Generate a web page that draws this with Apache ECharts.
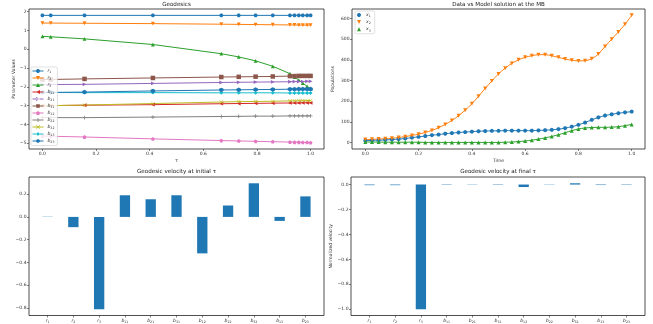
<!DOCTYPE html>
<html>
<head>
<meta charset="utf-8">
<script src="https://cdn.jsdelivr.net/npm/echarts@6/dist/echarts.min.js"></script>
<style>html,body{margin:0;padding:0;background:#fff}#chart{width:653px;height:324px}</style>
</head>
<body>
<div id="chart"></div>
<script>
// ---- data: geodesics (top left)
const tau = [0, 0.031, 0.157, 0.412, 0.667, 0.732, 0.795, 0.859, 0.923, 0.94, 0.956, 0.971, 0.987, 1.0];
const paramNames = ['r1', 'r2', 'r3', 'b11', 'b21', 'b31', 'b12', 'b22', 'b32', 'b13', 'b23'];
const r1  = [1.80, 1.80, 1.80, 1.80, 1.80, 1.80, 1.80, 1.80, 1.80, 1.80, 1.80, 1.80, 1.80, 1.80];
const r2  = [1.39, 1.39, 1.38, 1.36, 1.33, 1.32, 1.31, 1.30, 1.29, 1.29, 1.285, 1.28, 1.28, 1.28];
const r3  = [0.68, 0.66, 0.55, 0.25, -0.24, -0.41, -0.62, -0.91, -1.30, -1.48, -1.64, -1.80, -1.98, -2.10];
const b11 = [-3.00, -3.00, -2.98, -2.95, -2.90, -2.89, -2.88, -2.87, -2.86, -2.86, -2.86, -2.85, -2.85, -2.85];
const b21 = [-1.88, -1.88, -1.87, -1.82, -1.77, -1.76, -1.75, -1.74, -1.73, -1.72, -1.72, -1.72, -1.71, -1.71];
const b31 = [-1.61, -1.61, -1.58, -1.53, -1.48, -1.47, -1.46, -1.45, -1.43, -1.43, -1.42, -1.42, -1.42, -1.42];
const b12 = [-4.62, -4.63, -4.67, -4.77, -4.86, -4.88, -4.90, -4.92, -4.94, -4.95, -4.95, -4.96, -4.96, -4.97];
const b22 = [-3.64, -3.64, -3.64, -3.61, -3.58, -3.57, -3.56, -3.56, -3.55, -3.55, -3.55, -3.55, -3.55, -3.55];
const b32 = [-3.00, -3.00, -2.97, -2.89, -2.81, -2.79, -2.78, -2.77, -2.75, -2.75, -2.74, -2.74, -2.73, -2.73];
const b13 = [-2.30, -2.30, -2.31, -2.31, -2.32, -2.32, -2.32, -2.32, -2.33, -2.33, -2.33, -2.33, -2.33, -2.33];
const b23 = [-2.30, -2.30, -2.28, -2.22, -2.17, -2.16, -2.15, -2.14, -2.13, -2.13, -2.12, -2.12, -2.12, -2.12];
const paths = [r1, r2, r3, b11, b21, b31, b12, b22, b32, b13, b23];

// ---- data: populations (top right)
const time = [0, 0.025, 0.05, 0.075, 0.1, 0.125, 0.15, 0.175, 0.2, 0.225, 0.25, 0.275, 0.3, 0.325, 0.35, 0.375, 0.4,
  0.425, 0.45, 0.475, 0.5, 0.525, 0.55, 0.575, 0.6, 0.625, 0.65, 0.675, 0.7, 0.725, 0.75, 0.775, 0.8, 0.825, 0.85,
  0.875, 0.9, 0.925, 0.95, 0.975, 1.0];
const x1 = [10, 11, 12, 13, 15, 17, 20, 24, 28, 32, 36, 39, 43, 46, 49, 51, 53, 55, 56, 57, 57, 58, 58, 58, 58, 58,
  59, 60, 62, 65, 70, 77, 86, 97, 110, 122, 131, 137, 142, 146, 150];
const x2 = [15, 16, 17, 19, 21, 25, 29, 35, 41, 49, 59, 72, 88, 107, 130, 157, 188, 224, 262, 298, 332, 360, 383, 400,
  412, 420, 425, 425, 420, 412, 404, 398, 395, 396, 405, 428, 465, 500, 535, 572, 615];
const x3 = [3, 3, 3, 2, 2, 2, 2, 2, 2, 1, 1, 1, 1, 1, 1, 1, 1, 1, 1, 1, 1, 2, 3, 5, 8, 12, 17, 23, 30, 38, 48, 58,
  66, 71, 73, 74, 74, 75, 77, 82, 88];
const popNames = ['x1', 'x2', 'x3'];
const pops = [x1, x2, x3];

// ---- data: velocities (bottom)
const velInitial = [0.002, -0.09, -0.81, 0.19, 0.155, 0.19, -0.32, 0.10, 0.295, -0.035, 0.18];
const velFinal = [-0.005, -0.005, -1.0, 0.003, 0.002, 0.003, -0.02, 0.002, 0.01, -0.004, 0.003];

// ---- tick labels
const tauTicks = [0, 0.2, 0.4, 0.6, 0.8, 1.0];
const paramTicks = [-5, -4, -3, -2, -1, 0, 1, 2];
const popTicks = [0, 100, 200, 300, 400, 500, 600];
const velTicksInitial = [-0.8, -0.6, -0.4, -0.2, 0.0, 0.2];
const velTicksFinal = [-1.0, -0.8, -0.6, -0.4, -0.2, 0.0];

const FONT = 'DejaVu Sans';
const TAB = ['#1f77b4', '#ff7f0e', '#2ca02c', '#d62728', '#9467bd', '#8c564b', '#e377c2', '#7f7f7f', '#bcbd22', '#17becf', '#1f77b4'];

// marker outlines in a 10x10 box (matplotlib o v ^ < > s p + x D h)
function circlePts() {
  const p = [];
  for (let i = 0; i < 20; i++) {
    const a = i / 20 * Math.PI * 2;
    p.push([5 + 5 * Math.cos(a), 5 + 5 * Math.sin(a)]);
  }
  return p;
}
const SHAPES = [
  circlePts(),
  [[0, 0], [10, 0], [5, 10]],
  [[5, 0], [10, 10], [0, 10]],
  [[10, 0], [10, 10], [0, 5]],
  [[0, 0], [0, 10], [10, 5]],
  [[0.5, 0.5], [9.5, 0.5], [9.5, 9.5], [0.5, 9.5]],
  [[5, 0], [10, 3.8], [8.1, 10], [1.9, 10], [0, 3.8]],
  [[4, 0], [6, 0], [6, 4], [10, 4], [10, 6], [6, 6], [6, 10], [4, 10], [4, 6], [0, 6], [0, 4], [4, 4]],
  [[1, 0], [5, 4], [9, 0], [10, 1], [6, 5], [10, 9], [9, 10], [5, 6], [1, 10], [0, 9], [4, 5], [0, 1]],
  [[5, 0], [9, 5], [5, 10], [1, 5]],
  [[5, 0], [9.3, 2.5], [9.3, 7.5], [5, 10], [0.7, 7.5], [0.7, 2.5]]
];
function toPath(pts, dx) {
  return 'M' + pts.map(p => (p[0] + dx).toFixed(2) + ',' + p[1].toFixed(2)).join('L') + 'Z';
}
const MARKERS = SHAPES.map(s => 'path://' + toPath(s, 0));
const POP_MARKERS = [MARKERS[0], MARKERS[1], MARKERS[2]];
// legend icon: line with the marker in the middle, 27.5x10 box
function lineIcon(pts) {
  return 'path://M0,3.9H27.5V6.1H0Z' + toPath(pts, 8.75);
}

const grids = [
  { left: 29, top: 9, width: 295, height: 140 },
  { left: 352, top: 9, width: 293, height: 140 },
  { left: 29, top: 177, width: 295, height: 139 },
  { left: 351, top: 177, width: 294, height: 139 }
];

// matplotlib style 5% margins
function pad(lo, hi) { const d = (hi - lo) * 0.05; return [lo - d, hi + d]; }
function minus(s) { return String(s).replace('-', '\u2212'); }
function fmt1(v) { return Math.abs(v) < 1e-9 ? '0.0' : minus(v.toFixed(1)); }
function sub(name) { return '{i|' + name[0] + '}{s|' + name.slice(1) + '}'; }

const allParams = [].concat(...paths);
const yParam = pad(Math.min(...allParams), Math.max(...allParams));
const yPop = pad(Math.min(0, ...x3), Math.max(...x2));
const yVel0 = pad(Math.min(0, ...velInitial), Math.max(0, ...velInitial));
const yVel1 = pad(Math.min(0, ...velFinal), Math.max(0, ...velFinal));
const xTau = pad(0, 1);
const xBar = pad(-0.2, paramNames.length - 1 + 0.2);

const tickStyle = { show: true, length: 2, lineStyle: { color: '#333', width: 0.6 } };
const labelBase = { fontFamily: FONT, fontSize: 4.5, color: '#333', margin: 2.5 };
const richSub = {
  i: { fontStyle: 'italic', fontSize: 4.5, fontFamily: FONT, color: '#333', lineHeight: 6, verticalAlign: 'middle' },
  s: { fontSize: 3.2, fontFamily: FONT, color: '#333', lineHeight: 6, verticalAlign: 'bottom', padding: [2, 0, 0, 0] }
};

function valueAxis(gi, range, ticks, fmt, extra) {
  return Object.assign({
    type: 'value', gridIndex: gi, min: range[0], max: range[1],
    axisLine: { show: false, onZero: false },
    axisTick: Object.assign({ customValues: ticks }, tickStyle),
    axisLabel: Object.assign({ customValues: ticks, formatter: fmt }, labelBase),
    splitLine: { show: false },
    nameTextStyle: { fontFamily: FONT, fontSize: 4.5, color: '#333' }
  }, extra || {});
}

const barIdx = paramNames.map((n, i) => i);

const series = [];
paths.forEach((arr, k) => {
  series.push({
    name: paramNames[k], type: 'line', xAxisIndex: 0, yAxisIndex: 0,
    data: tau.map((t, i) => [t, arr[i]]),
    symbol: MARKERS[k], symbolSize: (k === 5 || k === 10) ? 4.5 : 3.8, showSymbol: true,
    lineStyle: { width: 1, color: TAB[k] }, itemStyle: { color: TAB[k] },
    silent: true, animation: false
  });
});
pops.forEach((arr, k) => {
  series.push({
    name: popNames[k], type: 'line', xAxisIndex: 1, yAxisIndex: 1,
    data: time.map((t, i) => [t, arr[i]]),
    smooth: 0.3, symbol: POP_MARKERS[k], symbolSize: 4, showSymbol: true,
    lineStyle: { width: 1, color: TAB[k] }, itemStyle: { color: TAB[k] },
    silent: true, animation: false
  });
});
const barW0 = 0.4 * grids[2].width / (xBar[1] - xBar[0]);
const barW1 = 0.4 * grids[3].width / (xBar[1] - xBar[0]);
series.push({
  type: 'bar', xAxisIndex: 2, yAxisIndex: 2, barWidth: barW0,
  data: barIdx.map(i => [i, velInitial[i]]), itemStyle: { color: '#1f77b4' }, silent: true, animation: false
});
series.push({
  type: 'bar', xAxisIndex: 3, yAxisIndex: 3, barWidth: barW1,
  data: barIdx.map(i => [i, velFinal[i]]), itemStyle: { color: '#1f77b4' }, silent: true, animation: false
});

const titleStyle = { fontFamily: FONT, fontSize: 5.6, fontWeight: 'normal', color: '#222' };
function title(text, gi, top) {
  const g = grids[gi];
  return { text: text, left: g.left + g.width / 2, top: top, textAlign: 'center', textStyle: titleStyle, padding: 0 };
}

const option = {
  backgroundColor: '#fff',
  animation: false,
  title: [
    title('Geodesics', 0, 1.5),
    title('Data vs Model solution at the MB', 1, 1.5),
    title('Geodesic velocity at initial \u03c4', 2, 169),
    title('Geodesic velocity at final \u03c4', 3, 169)
  ],
  grid: grids.map(g => Object.assign({ show: true, borderColor: '#222', borderWidth: 0.8, backgroundColor: '#fff' }, g)),
  legend: [
    {
      data: paramNames.map((n, k) => ({ name: n, icon: lineIcon(SHAPES[k]) })),
      orient: 'vertical', left: 31, top: 67,
      itemWidth: 11, itemHeight: 4, itemGap: 1.5,
      padding: [1.5, 3, 1.5, 1.5], borderColor: '#ccc', borderWidth: 0.6, borderRadius: 1.5,
      backgroundColor: 'rgba(255,255,255,0.8)',
      formatter: sub, textStyle: { fontSize: 4.5, fontFamily: FONT, rich: richSub, padding: [0, 0, 0, -1] },
      selectedMode: false
    },
    {
      data: popNames.map((n, k) => ({ name: n, icon: POP_MARKERS[k] })), orient: 'vertical', left: 355, top: 11,
      itemWidth: 4, itemHeight: 4, itemGap: 1.6,
      padding: [1.5, 4, 1.5, 2], borderColor: '#ccc', borderWidth: 0.6, borderRadius: 1.5,
      backgroundColor: 'rgba(255,255,255,0.8)',
      formatter: sub, textStyle: { fontSize: 4.5, fontFamily: FONT, rich: richSub },
      selectedMode: false
    }
  ],
  xAxis: [
    valueAxis(0, xTau, tauTicks, fmt1, { name: '\u03c4', nameLocation: 'middle', nameGap: 9 }),
    valueAxis(1, xTau, tauTicks, fmt1, { name: 'Time', nameLocation: 'middle', nameGap: 9 }),
    valueAxis(2, xBar, barIdx, v => sub(paramNames[Math.round(v)])),
    valueAxis(3, xBar, barIdx, v => sub(paramNames[Math.round(v)]))
  ],
  yAxis: [
    valueAxis(0, yParam, paramTicks, v => minus(Math.round(v)), { name: 'Parameter Values', nameLocation: 'middle', nameGap: 11 }),
    valueAxis(1, yPop, popTicks, v => String(Math.round(v)), { name: 'Populations', nameLocation: 'middle', nameGap: 17 }),
    valueAxis(2, yVel0, velTicksInitial, fmt1),
    valueAxis(3, yVel1, velTicksFinal, fmt1, { name: 'Normalized velocity', nameLocation: 'middle', nameGap: 17 })
  ],
  series: series
};
// rich subscripts for the bar category labels
option.xAxis[2].axisLabel.rich = richSub;
option.xAxis[3].axisLabel.rich = richSub;

const chart = echarts.init(document.getElementById('chart'));
chart.setOption(option);
</script>
</body>
</html>
